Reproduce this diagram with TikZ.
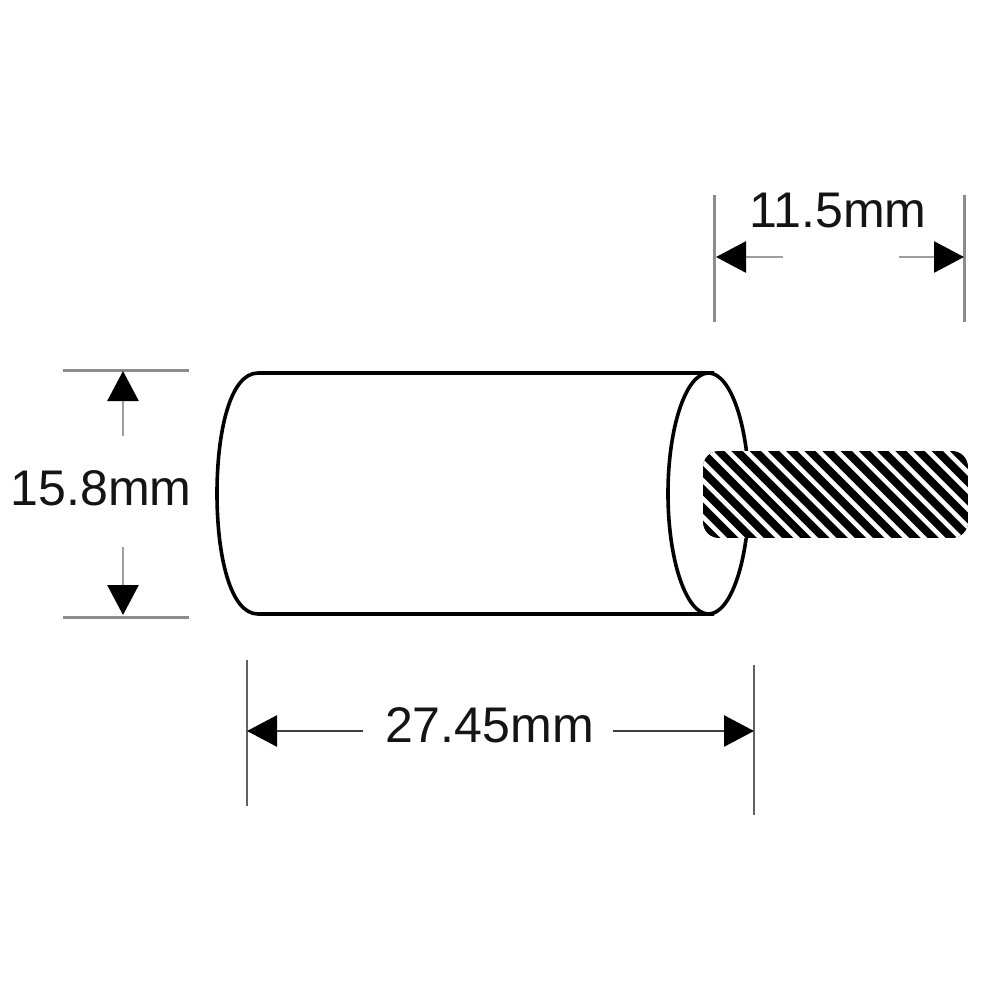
\documentclass[tikz,border=0pt]{standalone}
\usepackage{fontspec}
\setmainfont{Liberation Sans}
\usetikzlibrary{arrows.meta}
\tikzset{
  px/.style={x=0.1mm,y=-0.1mm},
  body/.style={draw=black,line width=0.36mm,line join=round},
  extline/.style={draw=black!45,line width=0.3mm},
  extdark/.style={draw=black!62,line width=0.27mm},
  dimline/.style={draw=black!38,line width=0.27mm,-{Triangle[length=3mm,width=3.1mm,black]}},
  dimdark/.style={draw=black!75,line width=0.27mm,-{Triangle[length=3mm,width=3.1mm,black]}},
  lab/.style={font=\fontsize{14.25pt}{16pt}\selectfont,inner sep=0pt,text=black!92},
  stripe/.style={draw=white,line width=0.46mm}
}
\begin{document}
\begin{tikzpicture}[px]
\useasboundingbox[fill=white] (0,0) rectangle (1000,1000);
% cylinder
\draw[body] (714,373) -- (258,373) .. controls (230,373) and (217,432) .. (217,493.5)
  .. controls (217,555) and (230,614) .. (258,614) -- (714,614);
\draw[body] (708.5,493.5) ellipse [x radius=40.5,y radius=120.5];
% stranded wire
\begin{scope}
  \clip[rounded corners=1.6mm] (703,451) rectangle (968,538);
  \fill[black] (703,451) rectangle (968,538);
  \foreach \k in {-8,...,15} {
    \draw[stripe] ({728+18.2*\k-20},{431}) -- ({728+18.2*\k+120},{571});
  }
\end{scope}
% 11.5mm
\coordinate (a1) at (714,195); \coordinate (a2) at (714,322);
\coordinate (b1) at (964,195); \coordinate (b2) at (964,322);
\coordinate (at) at (716,257); \coordinate (as) at (783,257);
\coordinate (bt) at (964,257); \coordinate (bs) at (899,257);
\draw[extline] (a1) -- (a2);
\draw[extline] (b1) -- (b2);
\draw[dimline] (as) -- (at);
\draw[dimline] (bs) -- (bt);
\node[lab] (w) at (838,211) {11.5mm};
% 15.8mm
\coordinate (c1) at (63,370); \coordinate (c2) at (189,370);
\coordinate (d1) at (63,617); \coordinate (d2) at (189,617);
\coordinate (ct) at (123,371); \coordinate (cs) at (123,436);
\coordinate (dt) at (123,615); \coordinate (ds) at (123,547);
\draw[extline] (c1) -- (c2);
\draw[extline] (d1) -- (d2);
\draw[dimline] (cs) -- (ct);
\draw[dimline] (ds) -- (dt);
\node[lab] (h) at (101,488) {15.8mm};
% 27.45mm
\coordinate (e1) at (247,660); \coordinate (e2) at (247,806);
\coordinate (f1) at (754,665); \coordinate (f2) at (754,815);
\coordinate (et) at (247,731); \coordinate (es) at (363,731);
\coordinate (ft) at (754,731); \coordinate (fs) at (613,731);
\draw[extdark] (e1) -- (e2);
\draw[extdark] (f1) -- (f2);
\draw[dimdark] (es) -- (et);
\draw[dimdark] (fs) -- (ft);
\node[lab] (l) at (489.5,725) {27.45mm};
\end{tikzpicture}
\end{document}
